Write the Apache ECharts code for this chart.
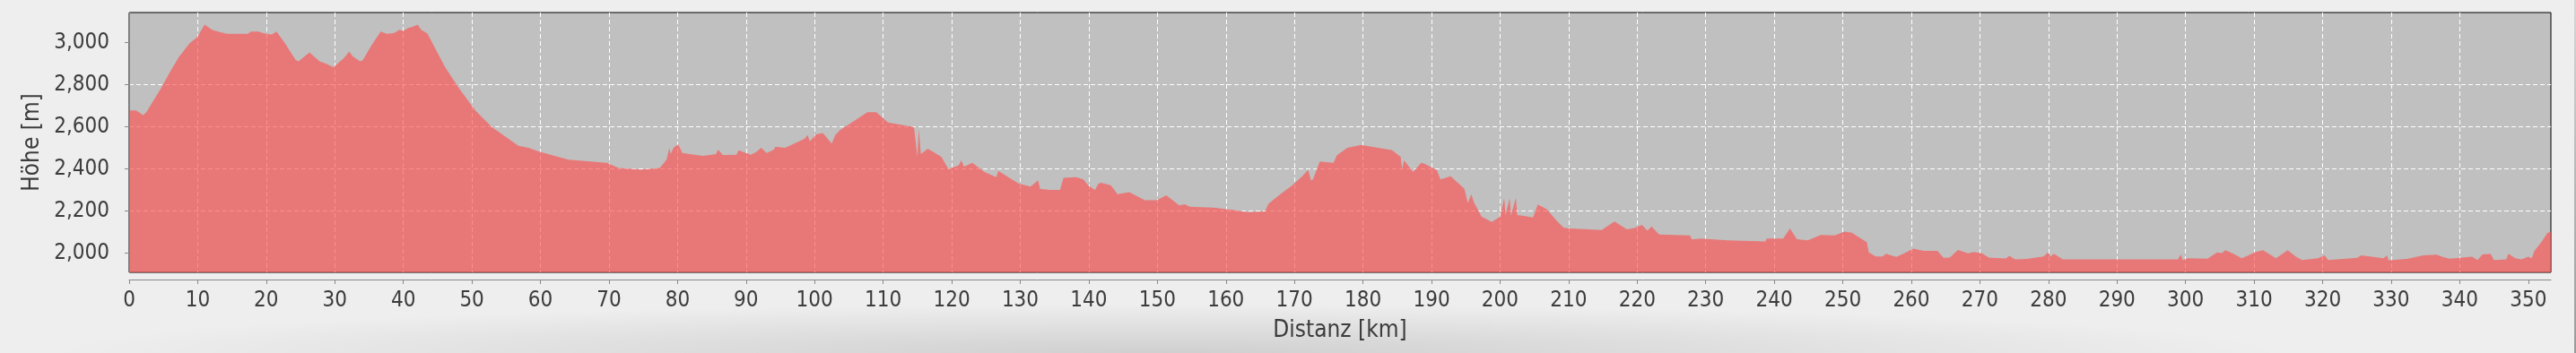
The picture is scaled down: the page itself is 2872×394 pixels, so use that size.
<!DOCTYPE html>
<html>
<head>
<meta charset="utf-8">
<script src="https://cdn.jsdelivr.net/npm/echarts@6/dist/echarts.min.js"></script>
<style>
  html, body { margin: 0; padding: 0; background: #eeeeee; }
  #wrap { position: relative; width: 2872px; height: 394px; overflow: hidden; background: #eeeeee; }
  #shade { position: absolute; left: 0; top: 0; width: 2872px; height: 394px;
    background: radial-gradient(ellipse 1250px 55px at 1300px 394px, rgba(0,0,0,0.13), rgba(0,0,0,0)); }
  #edge { position: absolute; right: 0; top: 0; width: 2px; height: 394px;
    background: linear-gradient(#d6d6d6, #9a9a9a); }
  #chart { position: absolute; left: 0; top: 0; width: 2872px; height: 394px; }
</style>
</head>
<body>
<div id="wrap">
  <div id="shade"></div>
  <div id="edge"></div>
  <div id="chart"></div>
</div>
<script>
// Distance along the route [km]
const dist = [
  0, 1.0, 2.05, 2.5, 4.67, 5.98, 7.29, 8.82, 9.9, 11.0, 12.1, 12.96, 14.27, 17.3, 17.76, 18.85, 19.7, 20.8, 21.5, 22.6,
  24.3, 24.7, 26.3, 27.8, 28.7, 29.8, 31.3, 32.1, 32.6, 33.7, 34.1, 35.4, 36.7, 37.6, 38.7, 39.4, 40.0, 40.7, 41.3, 42.1,
  42.6, 43.5, 46.1, 48.1, 50.5, 52.9, 56.8, 58.3, 59.6, 64.1, 69.7, 71.4, 74.7, 77.4, 78.4, 78.8, 79.0, 79.4, 80.1, 80.7,
  83.7, 85.6, 85.9, 86.2, 86.6, 88.6, 88.9, 90.7, 91.5, 92.2, 93.0, 94.0, 94.3, 95.7, 98.5, 99.0, 99.3, 100.2, 101.2, 102.5,
  103.0, 103.7, 107.7, 109.0, 110.7, 114.5, 115.0, 115.2, 115.5, 116.5, 118.5, 119.5, 121.0, 121.4, 121.8, 123.0, 124.8,
  126.5, 126.8, 129.8, 131.5, 132.6, 132.9, 134.3, 135.8, 136.3, 138.2, 139.2, 139.9, 140.9, 141.4, 141.8, 143.2, 144.2,
  145.9, 148.2, 149.9, 151.3, 153.2, 154.0, 154.7, 158.2, 161.2, 163.2, 165.7, 166.2, 168.2, 169.7, 171.2, 172.0, 172.4,
  172.7, 173.7, 175.7, 176.2, 177.7, 179.7, 184.2, 185.5, 185.7, 186.0, 187.3, 188.5, 188.9, 190.8, 191.3, 192.8, 194.8,
  195.3, 195.8, 196.2, 197.3, 198.8, 200.0, 200.6, 200.8, 201.4, 201.6, 202.3, 202.5, 203.3, 204.8, 205.5, 206.8, 208.3,
  209.3, 210.3, 214.8, 216.7, 218.5, 219.7, 220.7, 221.5, 222.1, 223.2, 227.7, 228.0, 229.3, 233.2, 238.7, 238.9, 241.3,
  242.3, 243.3, 244.9, 246.8, 248.8, 250.3, 251.3, 253.5, 253.8, 254.8, 255.8, 256.3, 257.8, 258.8, 260.3, 261.8, 263.8,
  264.7, 265.6, 266.8, 268.3, 269.1, 270.3, 271.3, 273.8, 274.3, 275.1, 276.8, 279.3, 279.9, 280.3, 280.8, 282.1, 295.2,
  298.9, 299.3, 299.6, 300.3, 303.2, 304.6, 305.3, 305.8, 307.0, 308.2, 308.9, 310.1, 311.3, 313.2, 314.9, 316.1, 317.0,
  319.3, 320.3, 320.8, 325.1, 325.6, 328.9, 329.4, 329.6, 332.3, 334.7, 336.6, 337.6, 338.5, 341.8, 342.6, 343.3, 344.5,
  345.0, 346.8, 347.1, 348.1, 349.0, 350.0, 350.5, 350.9, 351.9, 352.8, 353.3
];
// Elevation [m]
const elev = [
  2677, 2677, 2655, 2669, 2783, 2861, 2932, 2996, 3024, 3085, 3060, 3052, 3041, 3041, 3052, 3052, 3043, 3038, 3052, 3003,
  2917, 2910, 2953, 2910, 2899, 2882, 2925, 2957, 2935, 2910, 2917, 2989, 3052, 3041, 3045, 3060, 3055, 3069, 3074, 3085,
  3060, 3043, 2882, 2783, 2677, 2598, 2509, 2499, 2483, 2443, 2428, 2404, 2396, 2404, 2443, 2500, 2470, 2499, 2517, 2475,
  2461, 2470, 2490, 2481, 2465, 2466, 2488, 2466, 2480, 2499, 2475, 2490, 2505, 2499, 2542, 2560, 2530, 2563, 2570, 2520,
  2560, 2584, 2669, 2669, 2620, 2598, 2457, 2590, 2470, 2495, 2457, 2400, 2415, 2440, 2410, 2428, 2385,
  2360, 2390, 2329, 2315, 2345, 2305, 2300, 2300, 2357, 2360, 2350, 2322, 2300, 2329, 2333, 2322, 2279,
  2289, 2251, 2251, 2274, 2226, 2231, 2220, 2215, 2204, 2194, 2197, 2234, 2286, 2322, 2367, 2395, 2345,
  2350, 2435, 2428, 2464, 2499, 2513, 2489, 2457, 2400, 2440, 2386, 2428, 2425, 2393, 2350, 2364, 2305,
  2237, 2279, 2240, 2173, 2147, 2173, 2260, 2180, 2260, 2178, 2262, 2180, 2177, 2169, 2230, 2208, 2152,
  2120, 2116, 2109, 2150, 2112, 2120, 2133, 2106, 2126, 2088, 2083, 2064, 2069, 2060, 2055, 2069, 2069,
  2116, 2065, 2060, 2086, 2083, 2102, 2096, 2052, 2003, 1984, 1984, 1996, 1981, 1996, 2021, 2010, 2010,
  1977, 1978, 2014, 1998, 2005, 1998, 1978, 1974, 1987, 1970, 1972, 1984, 2003, 1984, 1996, 1970, 1970,
  1970, 1993, 1967, 1975, 1973, 2003, 1999, 2013, 1996, 1975, 1985, 2004, 2013, 1975, 2013, 1982, 1967,
  1975, 1989, 1967, 1977, 1989, 1975, 1989, 1965, 1972, 1989, 1992, 1980, 1973, 1982, 1967, 1993, 1996,
  1967, 1970, 1996, 1975, 1970, 1982, 1975, 2010, 2052, 2095, 2102
];
// Tick labels
const xTicks = [0, 10, 20, 30, 40, 50, 60, 70, 80, 90, 100, 110, 120, 130, 140, 150, 160, 170, 180, 190,
  200, 210, 220, 230, 240, 250, 260, 270, 280, 290, 300, 310, 320, 330, 340, 350];
const yTicks = [2000, 2200, 2400, 2600, 2800, 3000];
const xTitle = 'Distanz [km]';
const yTitle = 'Höhe [m]';

const FONT = "'DejaVu Sans Condensed', 'Noto Sans', sans-serif";
const TXT = '#3c3c3c';

const chart = echarts.init(document.getElementById('chart'), null, { renderer: 'canvas' });
chart.setOption({
  animation: false,
  backgroundColor: 'transparent',
  grid: {
    left: 144, top: 14, width: 2700, height: 290,
    show: true, backgroundColor: '#c0c0c0', borderColor: '#000000', borderWidth: 1,
    containLabel: false
  },
  xAxis: {
    type: 'value', min: 0, max: 353.3, interval: 10, offset: 8,
    name: xTitle, nameLocation: 'middle', nameGap: 44,
    nameTextStyle: { fontFamily: FONT, fontSize: 26, color: TXT },
    axisLine: { show: true, lineStyle: { color: '#888888', width: 1 } },
    axisTick: { show: true, length: 5, lineStyle: { color: '#888888' }, customValues: xTicks },
    axisLabel: { fontFamily: FONT, fontSize: 24, color: TXT, margin: 12, customValues: xTicks },
    splitLine: { show: true, showMinLine: false, showMaxLine: false,
      lineStyle: { color: '#ffffff', type: [5, 3], width: 1 } }
  },
  yAxis: {
    type: 'value', min: 1908, max: 3142, offset: 7,
    name: yTitle, nameLocation: 'middle', nameGap: 88, nameRotate: 90,
    nameTextStyle: { fontFamily: FONT, fontSize: 26, color: TXT },
    axisLine: { show: true, lineStyle: { color: '#888888', width: 1 } },
    axisTick: { show: true, length: 5, lineStyle: { color: '#888888' }, customValues: yTicks },
    axisLabel: { fontFamily: FONT, fontSize: 24, color: TXT, margin: 15, customValues: yTicks,
      formatter: v => Number(v).toLocaleString('en-US') },
    splitLine: { show: true, showMinLine: false, showMaxLine: false,
      lineStyle: { color: '#ffffff', type: [5, 3], width: 1 } }
  },
  series: [{
    type: 'line',
    data: dist.map((d, i) => [d, elev[i]]),
    showSymbol: false,
    symbol: 'none',
    silent: true,
    lineStyle: { width: 0, opacity: 0 },
    areaStyle: { color: 'rgba(254, 81, 81, 0.65)', origin: 'start', opacity: 1 }
  }]
});
</script>
</body>
</html>
